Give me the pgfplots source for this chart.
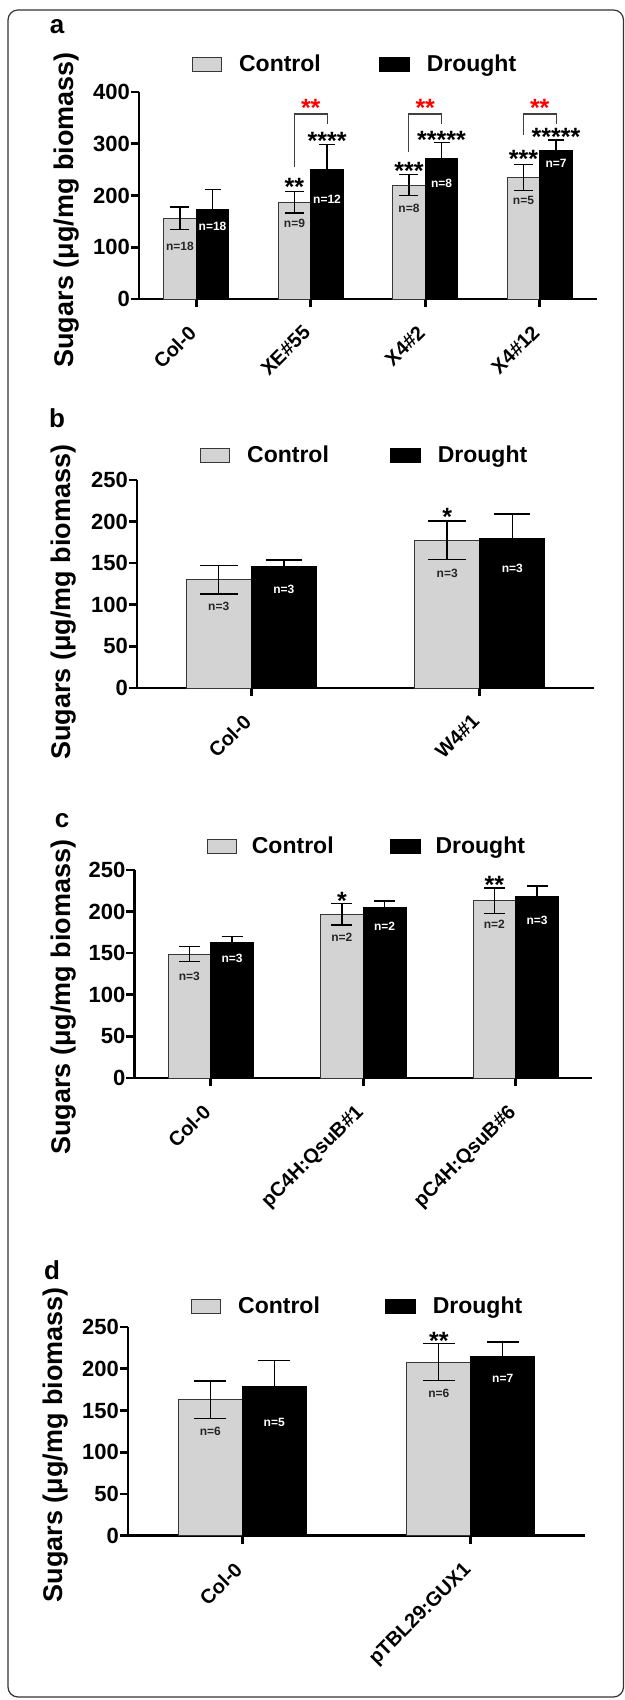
\documentclass[border=0pt]{standalone}
\usepackage{pgfplots}
\pgfplotsset{compat=1.18}
\usepackage{fontspec}
\setmainfont{Liberation Sans}
\definecolor{ctrl}{RGB}{211,211,211}
\definecolor{edge}{RGB}{55,55,55}
\newcommand{\fs}[1]{\fontsize{#1}{#1}\selectfont}

\tikzset{
  nlab/.style={font=\fs{12}\bfseries, text=black!85, inner sep=0pt},
  nlabw/.style={font=\fs{12}\bfseries, text=white, inner sep=0pt},
  stars/.style={font=\fs{25}\bfseries, anchor=north, inner sep=0pt},
}
\pgfplotsset{
  sugar/.style={
    scale only axis,
    ybar,
    axis x line*=bottom, axis y line*=left,
    axis line style={line width=2.6pt, black},
    tick align=outside,
    major tick length=8pt,
    every tick/.style={black, line width=2.6pt},
    ymin=0,
    xtick=data,
    minor tick num=0,
    clip=false,
    /pgf/number format/assume math mode=true,
    yticklabel style={font=\fs{22}\bfseries, inner sep=1pt},
    xticklabel style={font=\fs{20}\bfseries, inner sep=0pt, xshift=-9pt, yshift=-17pt, rotate=45, anchor=north east},
    ylabel={Sugars (μg/mg biomass)},
    ylabel style={font=\fs{27}\bfseries},
    legend style={draw=none, fill=none, font=\fs{23}\bfseries, legend columns=2,
      inner sep=0pt, anchor=west, nodes={inner sep=0pt},
      /tikz/every odd column/.style={column sep=17pt}},
  },
  ctrlbar/.style 2 args={fill=ctrl, draw=edge, line width=0.9pt, bar shift=-#2,
    legend image code/.code={\draw[##1, line width=0.9pt] (0pt,-7pt) rectangle (29pt,7pt);},
    error bars/.cd, y dir=both, y explicit,
    error bar style={line width=1.4pt, black},
    error mark options={rotate=90, line width=1.4pt, black, mark size=#1}},
  drbar/.style 2 args={fill=black, draw=black, line width=0.9pt, bar shift=#2,
    legend image code/.code={\draw[##1, line width=0.9pt] (0pt,-7pt) rectangle (30pt,7pt);},
    error bars/.cd, y dir=plus, y explicit,
    error bar style={line width=1.4pt, black},
    error mark options={rotate=90, line width=1.4pt, black, mark size=#1}},
}

% ---------- data ----------
\pgfplotstableread{
x y e
0 156 22
1 187 21
2 220 20
3 235 25
}\actrl
\pgfplotstableread{
x y e
0 173 38
1 251 48
2 271 31
3 287 20
}\adrou
\pgfplotstableread{
x y e
0 130 17
1 177.5 23
}\bctrl
\pgfplotstableread{
x y e
0 146 8
1 180 29
}\bdrou
\pgfplotstableread{
x y e
0 149 9
1 196.7 13
2 213 15.5
}\cctrl
\pgfplotstableread{
x y e
0 162.6 7.5
1 204.7 8
2 218 13
}\cdrou
\pgfplotstableread{
x y e
0 163 22.5
1 208 22
}\dctrl
\pgfplotstableread{
x y e
0 179 31
1 214.8 17
}\ddrou

\begin{document}
\begin{tikzpicture}
\useasboundingbox (0pt,0pt) rectangle (624pt,1700pt);
\draw[line width=1.2pt, black!80, rounded corners=10pt] (8pt,3pt) rectangle (623.5pt,1690pt);

% ---------------- panel a ----------------
\begin{axis}[sugar, at={(139pt,1401pt)}, anchor=south west,
  width=458pt, height=207pt, xmin=-0.5, xmax=3.5, ymax=400, ytick={0,100,200,300,400},
  bar width=0.285,
  xticklabels={Col-0,XE\#55,X4\#2,X4\#12},
  ylabel style={at={(axis description cs:-0.159,0.43)}, anchor=center},
  legend style={at={(0.1157,1.135)}, /tikz/every even column/.style={column sep=58pt}},
]
\addplot[ctrlbar={9.5pt}{0.1425}] table[x=x,y=y,y error=e] {\actrl};
\addlegendentry{Control}
\addplot[drbar={8pt}{0.1425}] table[x=x,y=y,y error=e] {\adrou};
\addlegendentry{Drought}
\node[nlab] at (axis cs:-0.1425,102.4) {n=18};
\node[nlabw] at (axis cs:0.1425,141) {n=18};
\node[nlab] at (axis cs:0.8575,146.9) {n=9};
\node[nlabw] at (axis cs:1.1425,193.2) {n=12};
\node[nlab] at (axis cs:1.8575,175.8) {n=8};
\node[nlabw] at (axis cs:2.1425,224.2) {n=8};
\node[nlab] at (axis cs:2.8575,191.3) {n=5};
\node[nlabw] at (axis cs:3.1425,262.8) {n=7};
\node[stars] at (axis cs:0.8575,233.8) {**};
\node[stars] at (axis cs:1.1425,322.7) {****};
\node[stars] at (axis cs:1.8575,264.7) {***};
\node[stars] at (axis cs:2.1425,324.6) {*****};
\node[stars] at (axis cs:2.8575,288) {***};
\node[stars] at (axis cs:3.1425,330.4) {*****};
\node[stars, text=red] at (axis cs:1,386.5) {**};
\node[stars, text=red] at (axis cs:2,386.5) {**};
\node[stars, text=red] at (axis cs:3,386.5) {**};
\draw[line width=1.1pt, black!75] (axis cs:0.8575,255) -- (axis cs:0.8575,357.5) -- (axis cs:1.1425,357.5) -- (axis cs:1.1425,338);
\draw[line width=1.1pt, black!75] (axis cs:1.8575,284) -- (axis cs:1.8575,357.5) -- (axis cs:2.1425,357.5) -- (axis cs:2.1425,338);
\draw[line width=1.1pt, black!75] (axis cs:2.8575,317) -- (axis cs:2.8575,357.5) -- (axis cs:3.1425,357.5) -- (axis cs:3.1425,338);
\end{axis}

% ---------------- panel b ----------------
\begin{axis}[sugar, at={(137pt,1012pt)}, anchor=south west,
  width=457pt, height=208pt, xmin=-0.5, xmax=1.5, ymax=250, ytick={0,50,100,150,200,250},
  bar width=0.285,
  xticklabels={Col-0,W4\#1},
  ylabel style={at={(axis description cs:-0.16,0.413)}, anchor=center},
  legend style={at={(0.138,1.12)}, /tikz/every even column/.style={column sep=61pt}},
]
\addplot[ctrlbar={19pt}{0.1425}] table[x=x,y=y,y error=e] {\bctrl};
\addlegendentry{Control}
\addplot[drbar={18pt}{0.1425}] table[x=x,y=y,y error=e] {\bdrou};
\addlegendentry{Drought}
\node[nlab] at (axis cs:-0.1425,98.6) {n=3};
\node[nlabw] at (axis cs:0.1425,119) {n=3};
\node[nlab] at (axis cs:0.8575,138) {n=3};
\node[nlabw] at (axis cs:1.1425,144) {n=3};
\node[stars] at (axis cs:0.8575,216) {*};
\end{axis}

% ---------------- panel c ----------------
\begin{axis}[sugar, at={(134.5pt,622pt)}, anchor=south west,
  width=457.5pt, height=208pt, xmin=-0.5, xmax=2.5, ymax=250, ytick={0,50,100,150,200,250},
  bar width=0.28,
  xticklabels={Col-0,pC4H:QsuB\#1,pC4H:QsuB\#6},
  ylabel style={at={(axis description cs:-0.156,0.389)}, anchor=center},
  legend style={at={(0.158,1.115)}, /tikz/every odd column/.style={column sep=15pt}, /tikz/every even column/.style={column sep=56pt}},
]
\addplot[ctrlbar={10.5pt}{0.14}] table[x=x,y=y,y error=e] {\cctrl};
\addlegendentry{Control}
\addplot[drbar={10.5pt}{0.14}] table[x=x,y=y,y error=e] {\cdrou};
\addlegendentry{Drought}
\node[nlab] at (axis cs:-0.14,122.6) {n=3};
\node[nlabw] at (axis cs:0.14,144) {n=3};
\node[nlab] at (axis cs:0.86,169.5) {n=2};
\node[nlabw] at (axis cs:1.14,182.7) {n=2};
\node[nlab] at (axis cs:1.86,185) {n=2};
\node[nlabw] at (axis cs:2.14,190) {n=3};
\node[stars] at (axis cs:0.86,223.6) {*};
\node[stars] at (axis cs:1.86,242.8) {**};
\end{axis}

% ---------------- panel d ----------------
\begin{axis}[sugar, at={(128pt,164.3pt)}, anchor=south west,
  width=457pt, height=208.7pt, xmin=-0.5, xmax=1.5, ymax=250, ytick={0,50,100,150,200,250},
  bar width=0.28,
  xticklabels={Col-0,pTBL29:GUX1},
  ylabel style={at={(axis description cs:-0.158,0.435)}, anchor=center},
  legend style={at={(0.138,1.10)}, /tikz/every even column/.style={column sep=65pt}},
]
\addplot[ctrlbar={16pt}{0.14}] table[x=x,y=y,y error=e] {\dctrl};
\addlegendentry{Control}
\addplot[drbar={16pt}{0.14}] table[x=x,y=y,y error=e] {\ddrou};
\addlegendentry{Drought}
\node[nlab] at (axis cs:-0.14,125.4) {n=6};
\node[nlabw] at (axis cs:0.14,136) {n=5};
\node[nlab] at (axis cs:0.86,171) {n=6};
\node[nlabw] at (axis cs:1.14,189) {n=7};
\node[stars] at (axis cs:0.86,244) {**};
\end{axis}

\node[font=\fs{26}\bfseries] at (57pt,1673pt) {a};
\node[font=\fs{26}\bfseries] at (57pt,1282pt) {b};
\node[font=\fs{26}\bfseries] at (62pt,879pt) {c};
\node[font=\fs{26}\bfseries] at (52pt,430pt) {d};
\end{tikzpicture}
\end{document}
